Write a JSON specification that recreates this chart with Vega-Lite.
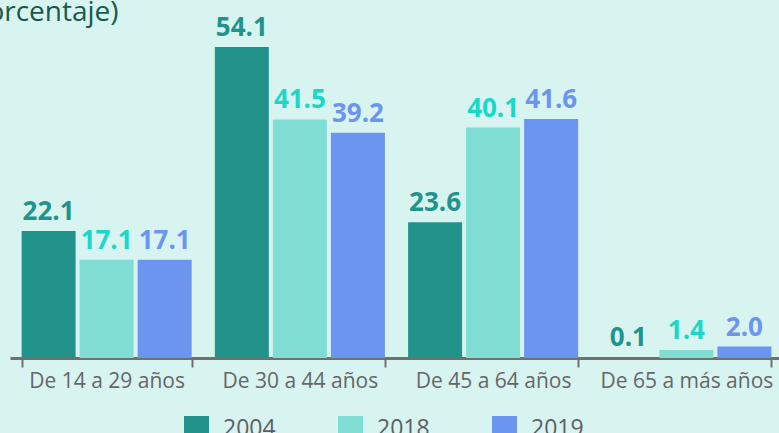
{
  "$schema": "https://vega.github.io/schema/vega-lite/v6.json",
  "autosize": {"type": "none"},
  "width": 773,
  "height": 323,
  "padding": {"left": 10, "top": 35, "right": 0, "bottom": 75},
  "background": "#d8f4f1",
  "title": {
    "text": "(En porcentaje)",
    "anchor": "start",
    "frame": "group",
    "dx": -88,
    "dy": 3,
    "offset": -31,
    "baseline": "alphabetic",
    "font": "Open Sans",
    "fontSize": 28,
    "fontWeight": "normal",
    "color": "#17594a"
  },
  "config": {
    "view": {"stroke": null},
    "font": "Open Sans"
  },
  "data": {
    "values": [
      {"grupo": "De 14 a 29 años", "anio": "2004", "valor": 22.1},
      {"grupo": "De 14 a 29 años", "anio": "2018", "valor": 17.1},
      {"grupo": "De 14 a 29 años", "anio": "2019", "valor": 17.1},
      {"grupo": "De 30 a 44 años", "anio": "2004", "valor": 54.1},
      {"grupo": "De 30 a 44 años", "anio": "2018", "valor": 41.5},
      {"grupo": "De 30 a 44 años", "anio": "2019", "valor": 39.2},
      {"grupo": "De 45 a 64 años", "anio": "2004", "valor": 23.6},
      {"grupo": "De 45 a 64 años", "anio": "2018", "valor": 40.1},
      {"grupo": "De 45 a 64 años", "anio": "2019", "valor": 41.6},
      {"grupo": "De 65 a más años", "anio": "2004", "valor": 0.1},
      {"grupo": "De 65 a más años", "anio": "2018", "valor": 1.4},
      {"grupo": "De 65 a más años", "anio": "2019", "valor": 2.0}
    ]
  },
  "encoding": {
    "x": {
      "field": "grupo",
      "type": "nominal",
      "sort": null,
      "scale": {"paddingInner": 0.12, "paddingOuter": 0.06},
      "axis": {
        "title": null,
        "labelAngle": 0,
        "labelFontSize": 21,
        "labelColor": "#666666",
        "labelPadding": 3,
        "domainColor": "#707070",
        "domainWidth": 3,
        "tickColor": "#707070",
        "tickWidth": 2,
        "tickSize": 9,
        "tickBand": "extent",
        "grid": false
      }
    },
    "xOffset": {
      "field": "anio",
      "type": "nominal",
      "scale": {"paddingInner": 0.069, "paddingOuter": 0}
    },
    "y": {
      "field": "valor",
      "type": "quantitative",
      "scale": {"domain": [0, 56.2], "nice": false},
      "axis": null
    }
  },
  "layer": [
    {
      "mark": {"type": "bar"},
      "encoding": {
        "color": {
          "field": "anio",
          "type": "nominal",
          "scale": {"domain": ["2004", "2018", "2019"], "range": ["#22938a", "#80ddd4", "#6b95ef"]},
          "legend": {
            "title": null,
            "orient": "none",
            "direction": "horizontal",
            "legendX": 174,
            "legendY": 381,
            "symbolType": "square",
            "symbolSize": 625,
            "symbolStrokeWidth": 0,
            "symbolOpacity": 1,
            "labelFontSize": 23,
            "labelColor": "#5f5f5f",
            "labelFontWeight": "normal",
            "labelOffset": 14,
            "columnPadding": 62,
            "labelBaseline": "middle"
          }
        }
      }
    },
    {
      "mark": {"type": "text", "baseline": "alphabetic", "dy": -11, "fontSize": 26, "fontWeight": "bold"},
      "encoding": {
        "text": {"field": "valor", "type": "quantitative", "format": ".1f"},
        "color": {
          "field": "anio",
          "type": "nominal",
          "scale": {"domain": ["2004", "2018", "2019"], "range": ["#22938a", "#19d8c8", "#6b95ef"]},
          "legend": null
        }
      }
    }
  ],
  "resolve": {"scale": {"color": "independent"}}
}
